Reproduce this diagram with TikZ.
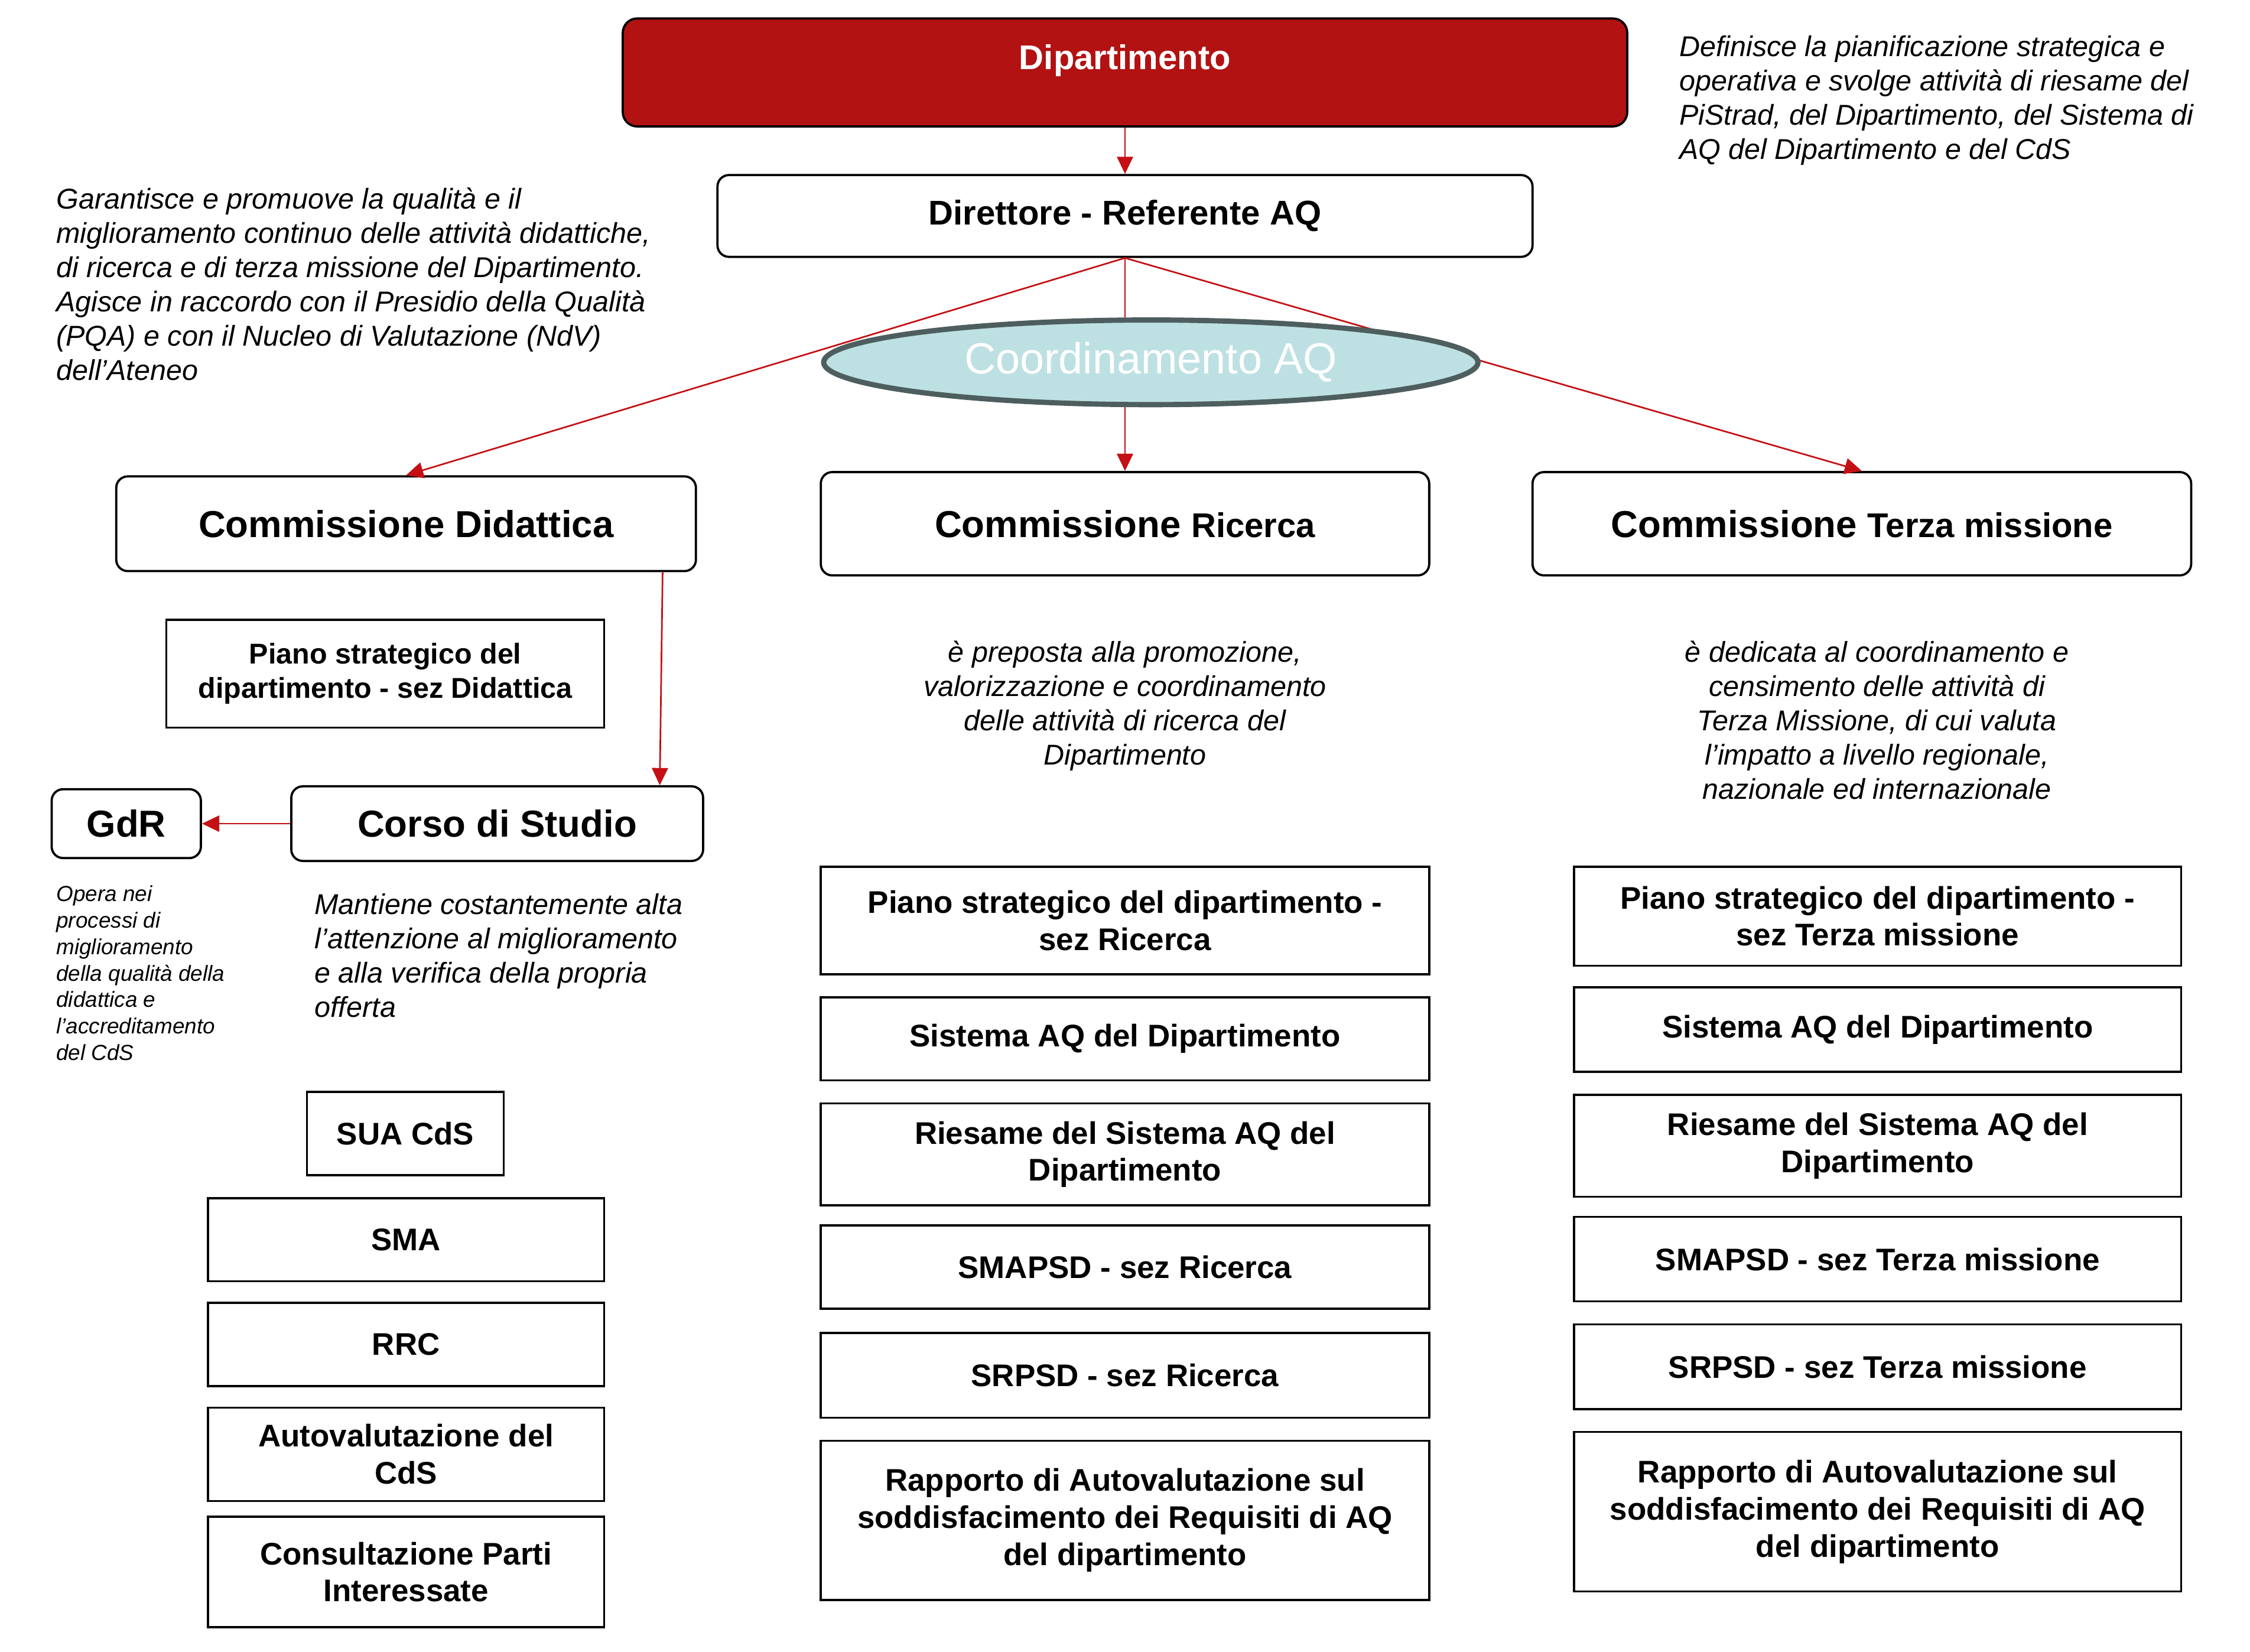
\documentclass[tikz,border=0pt]{standalone}
\usepackage{fontspec}
\setmainfont{Liberation Sans}
\usetikzlibrary{arrows.meta,shapes.geometric}
\definecolor{deptred}{RGB}{178,18,18}
\definecolor{linkred}{RGB}{196,16,20}
\definecolor{coordfill}{RGB}{189,224,227}
\definecolor{coordedge}{RGB}{78,94,94}

\begin{document}
\begin{tikzpicture}[x=0.025cm,y=-0.025cm,
    cbox/.style 2 args={draw,line width=1.1pt,rounded corners=0.2cm,
        minimum width=#1*0.025cm,minimum height=#2*0.025cm,inner sep=0pt,align=center},
    dbox/.style 2 args={draw,line width=1pt,minimum width=#1*0.025cm,
        minimum height=#2*0.025cm,inner sep=0pt,align=center,
        font=\bfseries\fontsize{15.5}{18.4}\selectfont},
    descr/.style={inner sep=0pt,font=\itshape\fontsize{14.2}{17}\selectfont},
    flow/.style={draw=linkred,line width=0.8pt,-{Triangle[length=0.3cm,width=0.28cm]}}]

    % Page frame
    \useasboundingbox (0,0) rectangle (1568,1151.3);

    % Top of the structure
    \node[draw,line width=1.1pt,rounded corners=0.25cm,fill=deptred,text=white,
        minimum width=700*0.025cm,inner sep=0.14cm,text height=0.75cm,text depth=0.85cm,
        font=\bfseries\fontsize{17}{20}\selectfont] (dip) at (784,50.5) {Dipartimento};
    \node[cbox={568}{57},font=\bfseries\fontsize{17}{20}\selectfont] (dir) at (784,150.5)
        {Direttore - Referente AQ};

    % Commissions
    \node[cbox={404}{66},font=\bfseries\fontsize{18.6}{22}\selectfont] (cdid) at (283,365)
        {Commissione Didattica};
    \node[cbox={424}{72},font=\bfseries\fontsize{18.6}{22}\selectfont] (cric) at (784,365)
        {Commissione {\fontsize{17}{20}\selectfont Ricerca}};
    \node[cbox={459}{72},font=\bfseries\fontsize{18.6}{22}\selectfont] (cter) at (1297.5,365)
        {Commissione {\fontsize{17}{20}\selectfont Terza missione}};

    % Links from the director (behind the ellipse)
    \draw[flow] (dip) -- (dir);
    \draw[flow] (dir.south) -- (cdid.north);
    \draw[flow] (dir.south) -- (cric.north);
    \draw[flow] (dir.south) -- (cter.north);

    % Coordinamento AQ
    \node[ellipse,draw=coordedge,line width=2.6pt,fill=coordfill,text=white,
        minimum width=456*0.025cm,minimum height=59*0.025cm,inner sep=0pt,
        font=\fontsize{21.6}{26}\selectfont] (coord) at (802,252.5) {Coordinamento AQ};

    % Didattica branch
    \node[dbox={305}{75},font=\bfseries\fontsize{14.2}{17}\selectfont] (psdid) at (268.5,469.5)
        {Piano strategico del\\dipartimento - sez Didattica};
    \node[cbox={104}{48},font=\bfseries\fontsize{18.6}{22}\selectfont] (gdr) at (88,574) {GdR};
    \node[cbox={287}{52},font=\bfseries\fontsize{18.6}{22}\selectfont] (cds) at (346.5,574)
        {Corso di Studio};
    \draw[flow] ([xshift=-0.6cm]cdid.south east) -- ([xshift=-0.775cm]cds.north east);
    \draw[flow] (cds) -- (gdr);

    \node[dbox={137}{58}] (sua) at (282.5,790) {SUA CdS};
    \node[dbox={276}{58}] (sma) at (283,864) {SMA};
    \node[dbox={276}{58}] (rrc) at (283,937) {RRC};
    \node[dbox={276}{65}] (auto) at (283,1013.5) {Autovalutazione del\\CdS};
    \node[dbox={276}{77}] (cons) at (283,1095.5) {Consultazione Parti\\Interessate};

    % Ricerca branch
    \node[dbox={424}{75}] (ric1) at (784,641.5) {Piano strategico del dipartimento -\\sez Ricerca};
    \node[dbox={424}{58}] (ric2) at (784,724) {Sistema AQ del Dipartimento};
    \node[dbox={424}{71}] (ric3) at (784,804.5) {Riesame del Sistema AQ del\\Dipartimento};
    \node[dbox={424}{58}] (ric4) at (784,883) {SMAPSD - sez Ricerca};
    \node[dbox={424}{59}] (ric5) at (784,958.5) {SRPSD - sez Ricerca};
    \node[dbox={424}{111}] (ric6) at (784,1059.5)
        {Rapporto di Autovalutazione sul\\soddisfacimento dei Requisiti di AQ\\del dipartimento};

    % Terza missione branch
    \node[dbox={423}{69}] (ter1) at (1308.5,638.5) {Piano strategico del dipartimento -\\sez Terza missione};
    \node[dbox={423}{59}] (ter2) at (1308.5,717.5) {Sistema AQ del Dipartimento};
    \node[dbox={423}{71}] (ter3) at (1308.5,798.5) {Riesame del Sistema AQ del\\Dipartimento};
    \node[dbox={423}{59}] (ter4) at (1308.5,877.5) {SMAPSD - sez Terza missione};
    \node[dbox={423}{59}] (ter5) at (1308.5,952.5) {SRPSD - sez Terza missione};
    \node[dbox={423}{111}] (ter6) at (1308.5,1053.5)
        {Rapporto di Autovalutazione sul\\soddisfacimento dei Requisiti di AQ\\del dipartimento};

    % Descriptions
    \node[descr,anchor=north west,align=left] (dipnote) at (1170,24.5)
        {Definisce la pianificazione strategica e\\operativa e svolge attività di riesame del\\PiStrad, del Dipartimento, del Sistema di\\AQ del Dipartimento e del CdS};
    \node[descr,anchor=north west,align=left] (dirnote) at (39,130.5)
        {Garantisce e promuove la qualità e il\\miglioramento continuo delle attività didattiche,\\di ricerca e di terza missione del Dipartimento.\\Agisce in raccordo con il Presidio della Qualità\\(PQA) e con il Nucleo di Valutazione (NdV)\\dell’Ateneo};
    \node[descr,anchor=north,align=center] (ricnote) at (784,446.5)
        {è preposta alla promozione,\\valorizzazione e coordinamento\\delle attività di ricerca del\\Dipartimento};
    \node[descr,anchor=north,align=center] (ternote) at (1308,446.5)
        {è dedicata al coordinamento e\\censimento delle attività di\\Terza Missione, di cui valuta\\l’impatto a livello regionale,\\nazionale ed internazionale};
    \node[descr,anchor=north west,align=left] (cdsnote) at (219,622.5)
        {Mantiene costantemente alta\\l’attenzione al miglioramento\\e alla verifica della propria\\offerta};
    \node[descr,anchor=north west,align=left,font=\itshape\fontsize{10.8}{13.1}\selectfont] (gdrnote) at (39,617)
        {Opera nei\\processi di\\miglioramento\\della qualità della\\didattica e\\l’accreditamento\\del CdS};
\end{tikzpicture}
\end{document}
